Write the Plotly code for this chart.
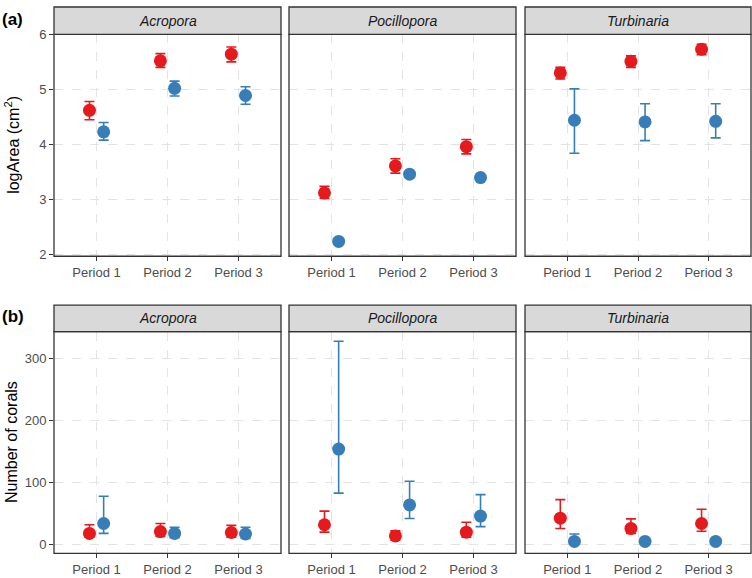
import plotly.graph_objects as go

W, H = 752, 578
periods = ["Period 1", "Period 2", "Period 3"]
genera = ["Acropora", "Pocillopora", "Turbinaria"]

# (a) logArea (cm2): red / blue series per genus, with lower/upper CI
area_red = {"Acropora": [4.62, 5.52, 5.64], "Pocillopora": [3.12, 3.61, 3.96], "Turbinaria": [5.30, 5.51, 5.73]}
area_red_lo = {"Acropora": [4.45, 5.40, 5.50], "Pocillopora": [3.02, 3.48, 3.83], "Turbinaria": [5.19, 5.40, 5.63]}
area_red_hi = {"Acropora": [4.78, 5.65, 5.77], "Pocillopora": [3.24, 3.74, 4.09], "Turbinaria": [5.40, 5.61, 5.82]}
area_blue = {"Acropora": [4.23, 5.02, 4.89], "Pocillopora": [2.24, 3.46, 3.40], "Turbinaria": [4.44, 4.41, 4.42]}
area_blue_lo = {"Acropora": [4.08, 4.88, 4.73], "Pocillopora": [2.19, 3.42, 3.35], "Turbinaria": [3.84, 4.07, 4.12]}
area_blue_hi = {"Acropora": [4.40, 5.15, 5.05], "Pocillopora": [2.29, 3.50, 3.45], "Turbinaria": [5.01, 4.74, 4.74]}

# (b) Number of corals
num_red = {"Acropora": [18, 21, 19.5], "Pocillopora": [32, 14, 20], "Turbinaria": [42.5, 26, 34]}
num_red_lo = {"Acropora": [12, 13, 12], "Pocillopora": [20, 7, 12], "Turbinaria": [26, 18, 21.5]}
num_red_hi = {"Acropora": [32, 34, 31], "Pocillopora": [54, 22, 36], "Turbinaria": [72.5, 41.5, 57]}
num_blue = {"Acropora": [34, 18, 17], "Pocillopora": [154, 64, 46], "Turbinaria": [5, 5, 5]}
num_blue_lo = {"Acropora": [18, 11, 10], "Pocillopora": [83, 42, 29], "Turbinaria": [2.5, 3, 3]}
num_blue_hi = {"Acropora": [78, 28, 28], "Pocillopora": [328, 102, 80.5], "Turbinaria": [17, 8, 9]}

RED = "#E41A1C"
BLUE = "#377EB8"
DODGE = 0.1

# pixel layout
xpix = [(54, 281), (289, 516), (525, 751)]
rows = [  # (strip_top, plot_top, plot_bottom, yrange, tickvals)
    (0, 28, 255, [1.97, 6.0], [2, 3, 4, 5, 6]),
    (305, 332, 559, [-14.3, 343.6], [0, 100, 200, 300]),
]

def px(x):
    return x / W

def py(y):
    return 1 - y / H

fig = go.Figure()
shapes = []
annotations = []

datasets = [
    (area_red, area_red_lo, area_red_hi, area_blue, area_blue_lo, area_blue_hi),
    (num_red, num_red_lo, num_red_hi, num_blue, num_blue_lo, num_blue_hi),
]

ax = 0
for r, (st, pt, pb, yr, tv) in enumerate(rows):
    rd, rlo, rhi, bd, blo, bhi = datasets[r]
    for c, g in enumerate(genera):
        ax += 1
        xa = "x" if ax == 1 else f"x{ax}"
        ya = "y" if ax == 1 else f"y{ax}"
        xs = [i + 1 for i in range(len(periods))]
        for vals, lo, hi, col, off in [(rd, rlo, rhi, RED, -DODGE), (bd, blo, bhi, BLUE, DODGE)]:
            v = vals[g]
            fig.add_trace(go.Scatter(
                x=[x + off for x in xs], y=v, mode="markers",
                marker=dict(color=col, size=13, line=dict(width=0)),
                error_y=dict(type="data", symmetric=False,
                             array=[h - m for h, m in zip(hi[g], v)],
                             arrayminus=[m - l for m, l in zip(v, lo[g])],
                             color=col, thickness=1.6, width=5),
                xaxis=xa, yaxis=ya, showlegend=False, hoverinfo="skip"))
        x0, x1 = xpix[c]
        fig.layout[("xaxis" if ax == 1 else f"xaxis{ax}")] = dict(
            domain=[px(x0), px(x1)], range=[0.4, 3.6], anchor=ya,
            tickmode="array", tickvals=xs, ticktext=periods,
            showgrid=True, gridcolor="#E3E3E3", griddash="dash", gridwidth=1.2,
            zeroline=False, showline=False,
            ticks="outside", ticklen=4, tickcolor="#333333", tickwidth=1,
            tickfont=dict(family="Liberation Sans, Arial", size=13, color="#4D4D4D"),
            fixedrange=True)
        fig.layout[("yaxis" if ax == 1 else f"yaxis{ax}")] = dict(
            domain=[py(pb), py(pt)], range=yr, anchor=xa,
            tickmode="array", tickvals=tv,
            showticklabels=(c == 0),
            showgrid=True, gridcolor="#E3E3E3", griddash="dash", gridwidth=1.2,
            zeroline=False, showline=False,
            ticks="outside" if c == 0 else "", ticklen=4, tickcolor="#333333", tickwidth=1,
            tickfont=dict(family="Liberation Sans, Arial", size=13, color="#4D4D4D"),
            fixedrange=True)
        # panel border
        shapes.append(dict(type="rect", xref="paper", yref="paper",
                           x0=px(x0), x1=px(x1), y0=py(pb), y1=py(pt),
                           line=dict(color="#333333", width=1.3), fillcolor="rgba(0,0,0,0)", layer="above"))
        # strip
        shapes.append(dict(type="rect", xref="paper", yref="paper",
                           x0=px(x0), x1=px(x1), y0=py(pt), y1=py(st),
                           line=dict(color="#333333", width=1.3), fillcolor="#D9D9D9", layer="above"))
        annotations.append(dict(text=f"<i>{g}</i>", xref="paper", yref="paper",
                                x=px((x0 + x1) / 2), y=py((st + pt) / 2), showarrow=False,
                                xanchor="center", yanchor="middle",
                                font=dict(family="Liberation Sans, Arial", size=14, color="#1A1A1A")))

# y axis titles
annotations.append(dict(text="logArea (cm<sup>2</sup>)", xref="paper", yref="paper",
                        x=px(12), y=py(141), textangle=-90, showarrow=False,
                        xanchor="center", yanchor="middle",
                        font=dict(family="Liberation Sans, Arial", size=16, color="#000000")))
annotations.append(dict(text="Number of corals", xref="paper", yref="paper",
                        x=px(12), y=py(445), textangle=-90, showarrow=False,
                        xanchor="center", yanchor="middle",
                        font=dict(family="Liberation Sans, Arial", size=16, color="#000000")))
# panel labels
annotations.append(dict(text="<b>(a)</b>", xref="paper", yref="paper",
                        x=px(0), y=py(13), showarrow=False, xanchor="left", yanchor="middle",
                        font=dict(family="Liberation Sans, Arial", size=17, color="#000000")))
annotations.append(dict(text="<b>(b)</b>", xref="paper", yref="paper",
                        x=px(0), y=py(317), showarrow=False, xanchor="left", yanchor="middle",
                        font=dict(family="Liberation Sans, Arial", size=17, color="#000000")))

fig.update_layout(width=W, height=H, margin=dict(l=0, r=0, t=0, b=0),
                  paper_bgcolor="white", plot_bgcolor="white",
                  shapes=shapes, annotations=annotations, showlegend=False)

fig.write_html("out.html", config={"displayModeBar": False},
               post_script="document.body.style.margin='0';document.body.style.overflow='hidden';")
